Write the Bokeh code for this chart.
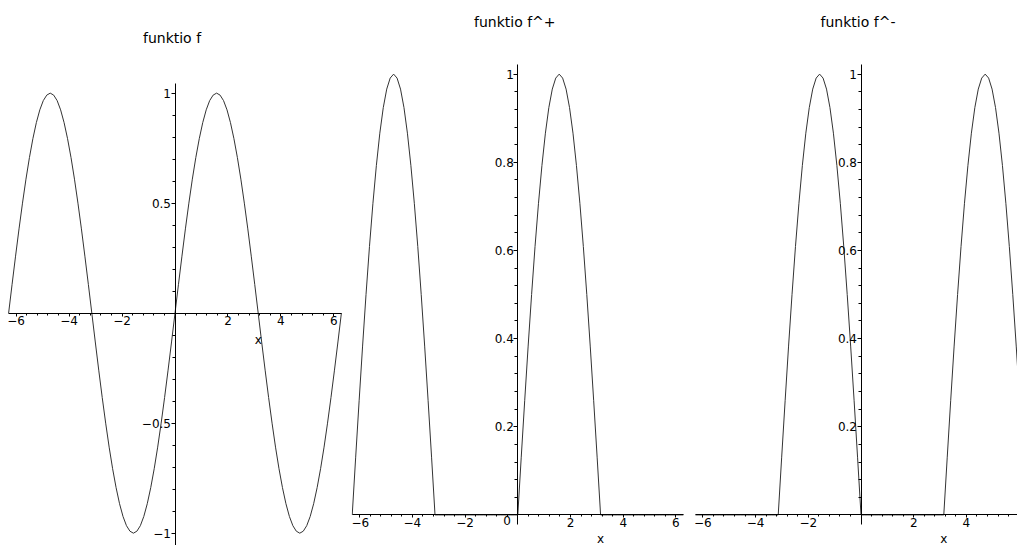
import numpy as np
from bokeh.plotting import figure
from bokeh.layouts import row
from bokeh.models import FixedTicker, Label, Range1d
from bokeh.embed import file_html
from bokeh.resources import INLINE

# ---- data ----
titles = ["funktio f", "funktio f^+", "funktio f^-"]
axis_name = "x"

# sample positions: x from -2*pi to 2*pi in steps of pi/24
x_values = np.linspace(-2 * np.pi, 2 * np.pi, 97)
# values of f read at those positions
f_values = [
    0.0, 0.131, 0.259, 0.383, 0.5, 0.609, 0.707, 0.793, 0.866, 0.924, 0.966, 0.991,
    1.0, 0.991, 0.966, 0.924, 0.866, 0.793, 0.707, 0.609, 0.5, 0.383, 0.259, 0.131,
    0.0, -0.131, -0.259, -0.383, -0.5, -0.609, -0.707, -0.793, -0.866, -0.924, -0.966, -0.991,
    -1.0, -0.991, -0.966, -0.924, -0.866, -0.793, -0.707, -0.609, -0.5, -0.383, -0.259, -0.131,
    0.0, 0.131, 0.259, 0.383, 0.5, 0.609, 0.707, 0.793, 0.866, 0.924, 0.966, 0.991,
    1.0, 0.991, 0.966, 0.924, 0.866, 0.793, 0.707, 0.609, 0.5, 0.383, 0.259, 0.131,
    0.0, -0.131, -0.259, -0.383, -0.5, -0.609, -0.707, -0.793, -0.866, -0.924, -0.966, -0.991,
    -1.0, -0.991, -0.966, -0.924, -0.866, -0.793, -0.707, -0.609, -0.5, -0.383, -0.259, -0.131,
    0.0,
]
f_arr = np.array(f_values)
f_plus = np.maximum(f_arr, 0.0)    # positive part
f_minus = np.maximum(-f_arr, 0.0)  # negative part

x_ticks = [-6, -4, -2, 2, 4, 6]
x_tick_labels = ["\u22126", "\u22124", "\u22122", "2", "4", "6"]
y1_ticks = [-1, -0.5, 0.5, 1]
y1_tick_labels = ["\u22121", "\u22120.5", "0.5", "1"]
y2_ticks = [0.2, 0.4, 0.6, 0.8, 1]
y2_tick_labels = ["0.2", "0.4", "0.6", "0.8", "1"]
zero_label = "0"

FONT = "DejaVu Sans"
H = 545
TWO_PI = 2 * np.pi


def make_fig(width, xr, yr, ybounds, xt, xtl, yt, ytl, x_minor, y_minor,
             xs, ys, title, title_y, xlab_off):
    p = figure(width=width, height=H, x_range=Range1d(*xr), y_range=Range1d(*yr),
               output_backend="svg", toolbar_location=None, tools="",
               min_border_left=0, min_border_right=0,
               min_border_top=0, min_border_bottom=0)
    p.grid.visible = False
    p.outline_line_color = None
    p.background_fill_color = "white"
    p.border_fill_color = "white"

    xa = p.xaxis[0]
    ya = p.yaxis[0]
    xa.fixed_location = 0
    ya.fixed_location = 0
    xa.bounds = (-TWO_PI, TWO_PI)
    ya.bounds = ybounds
    xa.ticker = FixedTicker(ticks=xt, minor_ticks=x_minor)
    ya.ticker = FixedTicker(ticks=yt, minor_ticks=y_minor)
    xa.major_label_overrides = dict(zip(xt, xtl))
    ya.major_label_overrides = dict(zip(yt, ytl))
    for a in (xa, ya):
        a.axis_line_color = "black"
        a.axis_line_width = 1
        a.major_tick_line_color = "black"
        a.minor_tick_line_color = "black"
        a.major_tick_in = 0
        a.minor_tick_in = 0
        a.major_label_text_font = FONT
        a.major_label_text_font_size = "12px"
        a.major_label_text_color = "black"
        a.major_label_standoff = 0
    xa.major_tick_out = 3
    xa.minor_tick_out = 2
    ya.major_tick_out = 4
    ya.minor_tick_out = 3

    p.line(xs, ys, line_color="#333333", line_width=1)

    p.add_layout(Label(x=0, y=title_y, x_offset=-3, text=title,
                       text_align="center", text_baseline="alphabetic",
                       text_font=FONT, text_font_size="14px", text_color="black"))
    p.add_layout(Label(x=np.pi, y=0, y_offset=xlab_off, text=axis_name,
                       text_align="center", text_baseline="alphabetic",
                       text_font=FONT, text_font_size="12px", text_color="black"))
    return p


x_minor = [round(v, 2) for v in np.arange(-6.0, 6.001, 0.4)]
y1_minor = [round(v, 2) for v in np.arange(-1.0, 1.001, 0.1)]
y2_minor = [round(v, 2) for v in np.arange(0.0, 1.001, 0.04)]

p1 = make_fig(351, (-6.590, 6.665), (-1.056, 1.421), (-1.06, 1.042),
              x_ticks, x_tick_labels, y1_ticks, y1_tick_labels, x_minor, y1_minor,
              x_values, f_arr, titles[0], 1.252, -27)
p2 = make_fig(341, (-6.311, 6.630), (-0.0694, 1.167), (-0.0225, 1.021),
              x_ticks, x_tick_labels, y2_ticks, y2_tick_labels, x_minor, y2_minor,
              x_values, f_plus, titles[1], 1.1184, -24)
# the "0" of the y axis sits just under the x axis in the middle panel
p2.add_layout(Label(x=0, y=0, x_offset=-7, y_offset=-1, text=zero_label,
                    text_align="right", text_baseline="top",
                    text_font=FONT, text_font_size="12px", text_color="black"))
p3 = make_fig(325, (-6.395, 5.939), (-0.0694, 1.167), (-0.0225, 1.021),
              x_ticks, x_tick_labels, y2_ticks, y2_tick_labels, x_minor, y2_minor,
              x_values, f_minus, titles[2], 1.1184, -24)

layout = row(p1, p2, p3)
open("out.html", "w").write(file_html(layout, INLINE))
